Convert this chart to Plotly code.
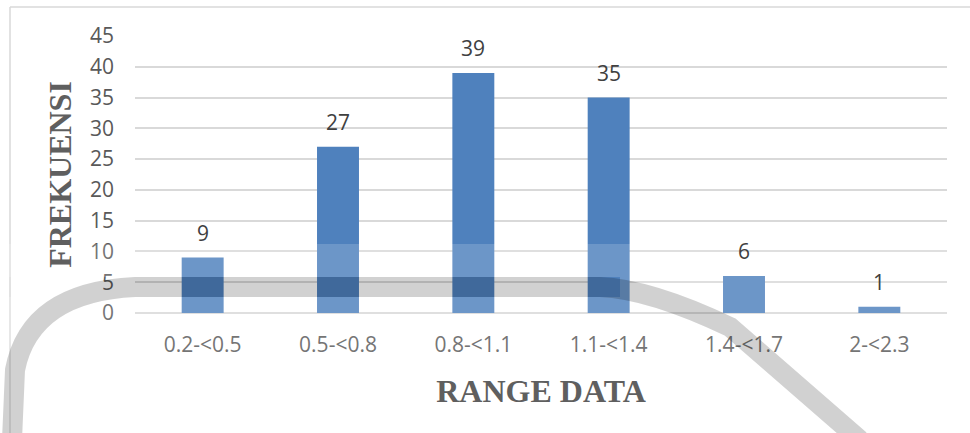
import plotly.graph_objects as go

categories = ["0.2-<0.5", "0.5-<0.8", "0.8-<1.1", "1.1-<1.4", "1.4-<1.7", "2-<2.3"]
frequencies = [9, 27, 39, 35, 6, 1]
y_ticks = [0, 5, 10, 15, 20, 25, 30, 35, 40, 45]

W, H = 970, 433
L, R, T, B = 135, 23, 36, 120
PW, PH = W - L - R, H - T - B

def px(x):
    return (x - L) / PW

def py(y):
    return 1 - (y - T) / PH

BAR = "#4F81BD"
TXT = "#595959"
GRID = "#D9D9D9"

fig = go.Figure()
fig.add_trace(go.Bar(
    x=categories, y=frequencies,
    marker=dict(color=BAR, line=dict(width=0)),
    width=0.31, hoverinfo="x+y",
))

for c, v in zip(categories, frequencies):
    fig.add_annotation(x=c, y=v, text=str(v), showarrow=False,
                       xref="x", yref="y", yanchor="middle", yshift=25,
                       font=dict(family="Open Sans", size=21, color="#404040"))

shapes = []
# outer chart border
shapes.append(dict(type="line", xref="paper", yref="paper",
                   x0=px(10), x1=px(975), y0=py(7), y1=py(7),
                   line=dict(color=GRID, width=1.5), layer="below"))
shapes.append(dict(type="line", xref="paper", yref="paper",
                   x0=px(10), x1=px(10), y0=py(7), y1=py(440),
                   line=dict(color=GRID, width=1.5), layer="below"))
# faint scanned watermark wash
for (xa, xb, ya, yb) in [(-5, 975, 244, 277), (620, 975, 277, 297), (-5, 975, 297, 440)]:
    shapes.append(dict(type="rect", xref="paper", yref="paper",
                       x0=px(xa), x1=px(xb), y0=py(ya), y1=py(yb),
                       fillcolor="rgba(255,255,255,0.17)", line=dict(width=0),
                       layer="above"))
# watermark ring band
pts = [("M", 12, 440), ("L", 15, 370), ("Q", 30, 292, 135, 287), ("L", 600, 287),
       ("Q", 650, 289, 730, 327), ("L", 860, 440)]
path = ""
for p in pts:
    cmd = p[0]
    coords = p[1:]
    s = []
    for i in range(0, len(coords), 2):
        s.append(f"{px(coords[i]):.5f},{py(coords[i+1]):.5f}")
    path += cmd + " " + " ".join(s) + " "
shapes.append(dict(type="path", xref="paper", yref="paper", path=path.strip(),
                   line=dict(color="rgba(0,0,0,0.18)", width=20),
                   fillcolor="rgba(0,0,0,0)", layer="above"))

fig.update_layout(
    width=W, height=H,
    margin=dict(l=L, r=R, t=T, b=B),
    paper_bgcolor="white", plot_bgcolor="white",
    showlegend=False,
    bargap=0.69,
    shapes=shapes,
    xaxis=dict(
        type="category", categoryorder="array", categoryarray=categories,
        showgrid=False, showline=False, zeroline=False, ticks="",
        tickfont=dict(family="Open Sans", size=21, color=TXT),
        ticklabelstandoff=17,
        title=dict(text="RANGE DATA", standoff=22,
                   font=dict(family="Liberation Serif", size=32, color="#5f5f5f", weight="bold")),
    ),
    yaxis=dict(
        range=[0, 45], tickvals=y_ticks, ticktext=[str(v) for v in y_ticks],
        showgrid=True, gridcolor=GRID, gridwidth=1.5,
        zeroline=True, zerolinecolor=GRID, zerolinewidth=1.5,
        showline=False, ticks="",
        tickfont=dict(family="Open Sans", size=21, color=TXT),
        ticklabelstandoff=20,
        title=dict(text="FREKUENSI", standoff=8,
                   font=dict(family="Liberation Serif", size=32, color="#5f5f5f", weight="bold")),
    ),
)

fig.write_html("out.html")
